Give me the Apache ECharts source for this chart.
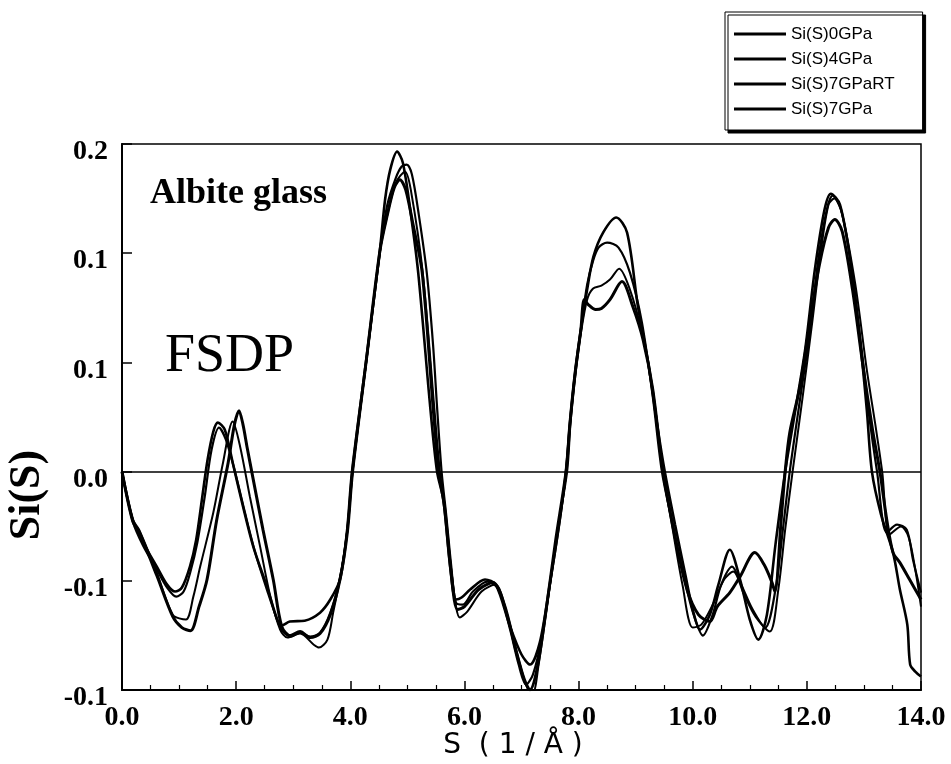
<!DOCTYPE html>
<html>
<head>
<meta charset="utf-8">
<script src="https://cdn.jsdelivr.net/npm/echarts@6/dist/echarts.min.js"></script>
<style>html,body{margin:0;padding:0;background:#fff;}#c{width:951px;height:764px;}</style>
</head>
<body>
<div id="c"></div>
<script>
// ---- data (S in 1/Å, Si(S) values) ----
const seriesNames = ['Si(S)0GPa', 'Si(S)4GPa', 'Si(S)7GPaRT', 'Si(S)7GPa'];

const s_0GPa = [0,0.19,0.37,0.61,0.79,0.93,1.05,1.19,1.3,1.4,1.5,1.6,1.68,1.8,1.94,2.12,2.3,2.54,2.72,2.8,2.94,3.2,3.47,3.65,3.82,3.94,4.03,4.28,4.52,4.61,4.7,4.82,4.92,5.05,5.19,5.4,5.52,5.63,5.75,5.85,5.95,6.1,6.36,6.55,6.8,7.0,7.15,7.32,7.5,7.67,7.78,7.85,7.94,8.04,8.15,8.26,8.43,8.66,8.85,9.04,9.22,9.39,9.51,9.69,9.87,10.0,10.13,10.3,10.45,10.65,10.83,11.0,11.15,11.3,11.45,11.62,11.8,11.97,12.14,12.31,12.42,12.58,12.76,12.93,13.05,13.14,13.3,13.51,13.63,13.76,13.81,13.9,14.0];
const v_0GPa = [0,-0.0264,-0.0390,-0.0522,-0.0621,-0.0659,-0.0637,-0.0522,-0.0374,-0.0154,0.0066,0.0220,0.0269,0.0231,0.0049,-0.0192,-0.0412,-0.0632,-0.0813,-0.0846,-0.0824,-0.0819,-0.0775,-0.0703,-0.0593,-0.0335,0,0.0615,0.1220,0.1495,0.1659,0.1758,0.1698,0.1440,0.1093,0.0357,0,-0.0154,-0.0522,-0.0703,-0.0692,-0.0648,-0.0593,-0.0621,-0.0852,-0.1005,-0.1060,-0.0940,-0.0610,-0.0264,0,0.0269,0.0544,0.0780,0.1000,0.1181,0.1313,0.1396,0.1313,0.0907,0.0599,0.0231,0,-0.0291,-0.0566,-0.0758,-0.0868,-0.0786,-0.0621,-0.0429,-0.0593,-0.0813,-0.0923,-0.0786,-0.0401,0,0.0341,0.0670,0.1110,0.1440,0.1527,0.1467,0.1165,0.0725,0.0341,0,-0.0236,-0.0445,-0.0648,-0.0841,-0.1060,-0.1099,-0.1126];

const s_4GPa = [0,0.19,0.37,0.61,0.79,0.95,1.08,1.2,1.32,1.45,1.57,1.7,1.82,1.97,2.15,2.33,2.55,2.75,2.82,2.95,3.12,3.3,3.47,3.65,3.82,3.95,4.04,4.28,4.52,4.65,4.8,4.9,4.99,5.08,5.2,5.34,5.45,5.52,5.6,5.68,5.77,5.85,5.97,6.15,6.4,6.6,6.8,6.95,7.08,7.2,7.35,7.5,7.67,7.78,7.85,7.94,8.04,8.15,8.25,8.35,8.5,8.7,8.9,9.11,9.3,9.46,9.65,9.85,10.0,10.18,10.35,10.5,10.69,10.85,11.05,11.27,11.45,11.58,11.7,11.88,12.06,12.2,12.35,12.45,12.6,12.8,12.98,13.1,13.23,13.4,13.58,13.75,13.86,14.0];
const v_4GPa = [0,-0.0275,-0.0407,-0.0538,-0.0637,-0.0687,-0.0659,-0.0549,-0.0390,-0.0137,0.0121,0.0242,0.0176,0.0011,-0.0220,-0.0440,-0.0659,-0.0841,-0.0879,-0.0907,-0.0885,-0.0907,-0.0885,-0.0775,-0.0582,-0.0319,0,0.0604,0.1209,0.1467,0.1615,0.1676,0.1687,0.1632,0.1412,0.1093,0.0698,0.0357,0,-0.0236,-0.0522,-0.0720,-0.0731,-0.0659,-0.0604,-0.0648,-0.0868,-0.1060,-0.1170,-0.1115,-0.0923,-0.0621,-0.0275,0,0.0269,0.0544,0.0780,0.1027,0.1154,0.1231,0.1258,0.1231,0.1093,0.0819,0.0412,0,-0.0291,-0.0582,-0.0769,-0.0901,-0.0786,-0.0621,-0.0522,-0.0621,-0.0758,-0.0857,-0.0648,-0.0319,0,0.0396,0.0780,0.1165,0.1440,0.1516,0.1440,0.1082,0.0615,0.0286,0,-0.0335,-0.0291,-0.0319,-0.0484,-0.0665];

const s_7GPaRT = [0,0.19,0.3,0.61,0.89,1.12,1.25,1.37,1.6,1.77,1.94,2.07,2.24,2.42,2.6,2.77,2.9,3.12,3.36,3.45,3.6,3.7,3.85,3.95,4.04,4.28,4.52,4.65,4.8,4.96,5.06,5.27,5.47,5.57,5.66,5.78,5.92,6.05,6.3,6.54,6.75,6.95,7.1,7.2,7.3,7.45,7.62,7.8,7.86,7.95,8.05,8.15,8.25,8.4,8.55,8.71,8.9,9.11,9.3,9.48,9.65,9.82,10.0,10.15,10.35,10.55,10.71,10.9,11.1,11.35,11.5,11.62,11.75,11.92,12.1,12.25,12.38,12.48,12.62,12.85,13.05,13.2,13.32,13.45,13.65,13.78,13.9,14.0];
const v_7GPaRT = [0,-0.0264,-0.0319,-0.0555,-0.0786,-0.0813,-0.0687,-0.0522,-0.0225,0.0049,0.0275,0.0137,-0.0137,-0.0412,-0.0687,-0.0868,-0.0912,-0.0890,-0.0951,-0.0967,-0.0923,-0.0775,-0.0538,-0.0319,0,0.0604,0.1209,0.1412,0.1588,0.1648,0.1549,0.1093,0.0357,0,-0.0209,-0.0566,-0.0802,-0.0769,-0.0659,-0.0621,-0.0786,-0.1033,-0.1187,-0.1214,-0.1060,-0.0731,-0.0346,0,0.0269,0.0544,0.0780,0.0945,0.1005,0.1022,0.1055,0.1115,0.1000,0.0764,0.0451,0,-0.0319,-0.0621,-0.0857,-0.0841,-0.0731,-0.0593,-0.0549,-0.0676,-0.0797,-0.0879,-0.0648,-0.0319,0,0.0396,0.0835,0.1220,0.1467,0.1500,0.1412,0.1027,0.0560,0.0258,0,-0.0346,-0.0302,-0.0357,-0.0538,-0.0742];

const s_7GPa = [0,0.19,0.3,0.61,0.89,1.05,1.2,1.35,1.49,1.66,1.86,1.97,2.05,2.12,2.19,2.3,2.47,2.65,2.8,2.95,3.12,3.3,3.47,3.65,3.82,3.95,4.04,4.28,4.52,4.65,4.77,4.87,4.97,5.1,5.26,5.45,5.55,5.65,5.77,5.88,6.0,6.25,6.5,6.7,6.9,7.05,7.15,7.27,7.42,7.6,7.78,7.85,7.94,8.04,8.1,8.17,8.3,8.4,8.55,8.76,8.95,9.13,9.3,9.48,9.7,9.9,10.1,10.3,10.43,10.65,10.83,11.09,11.25,11.39,11.44,11.55,11.62,11.7,11.88,12.06,12.22,12.38,12.49,12.62,12.8,12.98,13.15,13.28,13.4,13.51,13.63,13.8,14.0];
const v_7GPa = [0,-0.0275,-0.0330,-0.0571,-0.0797,-0.0857,-0.0874,-0.0742,-0.0593,-0.0264,0.0049,0.0258,0.0335,0.0258,0.0137,-0.0044,-0.0319,-0.0593,-0.0852,-0.0901,-0.0879,-0.0912,-0.0890,-0.0786,-0.0593,-0.0330,0,0.0610,0.1215,0.1412,0.1560,0.1604,0.1549,0.1357,0.1093,0.0357,0,-0.0192,-0.0566,-0.0758,-0.0742,-0.0648,-0.0610,-0.0731,-0.0978,-0.1143,-0.1198,-0.1088,-0.0786,-0.0374,0,0.0269,0.0544,0.0780,0.0945,0.0918,0.0890,0.0896,0.0945,0.1044,0.0907,0.0725,0.0451,0,-0.0374,-0.0648,-0.0786,-0.0824,-0.0742,-0.0665,-0.0577,-0.0445,-0.0511,-0.0610,-0.0659,-0.0264,0,0.0214,0.0467,0.0835,0.1137,0.1341,0.1385,0.1319,0.1000,0.0588,0.0231,0,-0.0264,-0.0445,-0.0500,-0.0593,-0.0703];

// axis settings
const xMin = 0, xMax = 14, xStep = 2;
const yMin = -0.12, yMax = 0.18, yStep = 0.06;

// ---- build ----
function zip(s, v) {
  const n = Math.min(s.length, v.length);
  const out = [];
  for (let i = 0; i < n; i++) out.push([s[i], v[i]]);
  return out;
}
const allS = [s_0GPa, s_4GPa, s_7GPaRT, s_7GPa];
const allV = [v_0GPa, v_4GPa, v_7GPaRT, v_7GPa];
const widths = [2.6, 2.2, 2.0, 3.0];

const serif = '"Liberation Serif", "DejaVu Serif", serif';

const series = seriesNames.map((name, i) => {
  const s = {
    name: name,
    type: 'line',
    data: zip(allS[i], allV[i]),
    smooth: 0.3,
    symbol: 'none',
    showSymbol: false,
    lineStyle: { color: '#000', width: widths[i] },
    itemStyle: { color: '#000' },
    z: 3
  };
  if (i === 0) {
    s.markLine = {
      silent: true,
      symbol: 'none',
      label: { show: false },
      lineStyle: { color: '#000', width: 1.5, type: 'solid' },
      data: [{ yAxis: 0 }],
      z: 2
    };
  }
  return s;
});

const chart = echarts.init(document.getElementById('c'), null, { renderer: 'canvas' });
chart.setOption({
  animation: false,
  backgroundColor: '#fff',
  grid: {
    left: 122, right: 30, top: 144, bottom: 74,
    show: true, borderColor: '#000', borderWidth: 1.5, containLabel: false
  },
  legend: {
    data: seriesNames,
    orient: 'vertical',
    left: 725,
    top: 12,
    padding: [13, 28, 12, 9],
    icon: 'rect',
    itemGap: 7,
    itemWidth: 52,
    itemHeight: 3,
    backgroundColor: '#fff',
    borderColor: '#000',
    borderWidth: 1,
    shadowColor: '#000',
    shadowBlur: 0,
    shadowOffsetX: 3,
    shadowOffsetY: 3,
    textStyle: { fontFamily: '"Liberation Sans", Arial, sans-serif', fontSize: 17, lineHeight: 18, color: '#000' }
  },
  xAxis: {
    type: 'value',
    min: xMin, max: xMax, interval: xStep,
    axisLine: { show: true, onZero: false, lineStyle: { color: '#000', width: 2 } },
    axisTick: { show: true, inside: true, length: 9, lineStyle: { color: '#000', width: 1.5 } },
    minorTick: { show: true, splitNumber: 4, length: 5, lineStyle: { color: '#000', width: 1.2 } },
    splitLine: { show: false },
    axisLabel: {
      margin: 14,
      color: '#000',
      fontFamily: serif,
      fontWeight: 'bold',
      fontSize: 28,
      formatter: v => v.toFixed(1)
    }
  },
  yAxis: {
    type: 'value',
    min: yMin, max: yMax, interval: yStep,
    axisLine: { show: true, onZero: false, lineStyle: { color: '#000', width: 2 } },
    axisTick: { show: true, inside: true, length: 10, lineStyle: { color: '#000', width: 1.5 } },
    splitLine: { show: false },
    axisLabel: {
      margin: 14,
      color: '#000',
      fontFamily: serif,
      fontWeight: 'bold',
      fontSize: 28,
      verticalAlign: 'top',
      lineHeight: 16,
      formatter: v => v.toFixed(1)
    }
  },
  graphic: [
    {
      type: 'text', left: 150, top: 176, silent: true,
      style: { text: 'Albite glass', fill: '#000', font: 'bold 36px ' + serif }
    },
    {
      type: 'text', left: 165, top: 330, silent: true,
      style: { text: 'FSDP', fill: '#000', font: '54px ' + serif }
    },
    {
      type: 'text', x: 28, y: 495, rotation: Math.PI / 2, silent: true,
      style: { text: 'Si(S)', fill: '#000', font: 'bold 44px ' + serif, align: 'center', verticalAlign: 'middle' }
    },
    {
      type: 'text', x: 513, y: 746, silent: true,
      style: { text: 'S  ( 1 / Å )', fill: '#000', font: '28px "DejaVu Sans", sans-serif', align: 'center', verticalAlign: 'middle' }
    }
  ],
  series: series
});
</script>
</body>
</html>
